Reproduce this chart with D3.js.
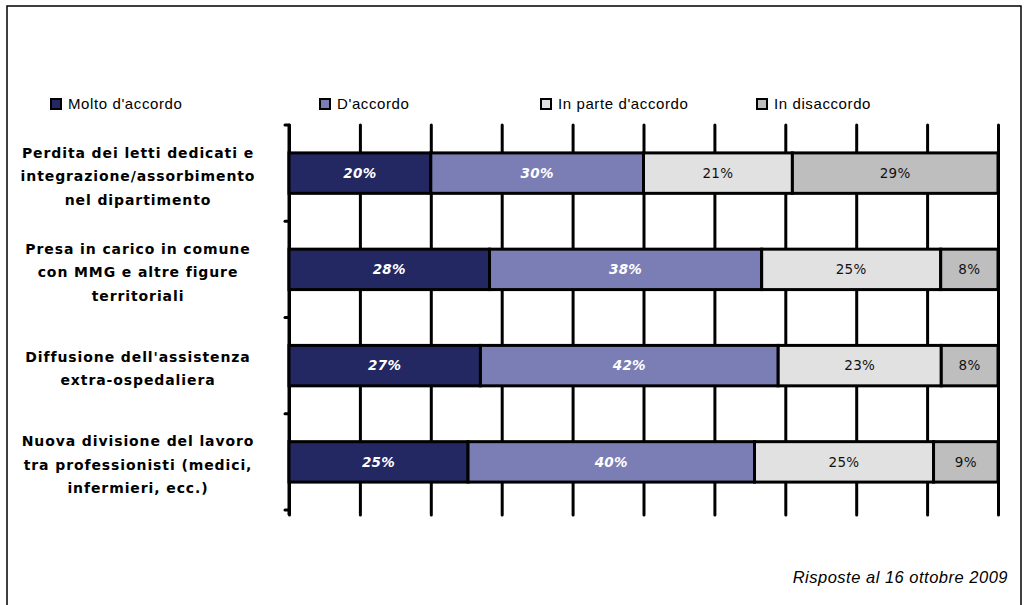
<!DOCTYPE html>
<html>
<head>
<meta charset="utf-8">
<script src="https://cdn.jsdelivr.net/npm/d3@7"></script>
<style>
  html, body { margin: 0; padding: 0; background: #fff; }
  svg { display: block; }
</style>
</head>
<body>
<svg id="chart" width="1027" height="605"></svg>
<script>
// Survey topics (one horizontal bar each)
const categories = [
  ["Perdita dei letti dedicati e", "integrazione/assorbimento", "nel dipartimento"],
  ["Presa in carico in comune", "con MMG e altre figure", "territoriali"],
  ["Diffusione dell'assistenza", "extra-ospedaliera"],
  ["Nuova divisione del lavoro", "tra professionisti (medici,", "infermieri, ecc.)"]
];
// Response levels
const seriesNames = ["Molto d'accordo", "D'accordo", "In parte d'accordo", "In disaccordo"];
// Percentages per topic, in the order of seriesNames
const molto    = [20, 28, 27, 25];
const daccordo = [30, 38, 42, 40];
const inParte  = [21, 25, 23, 25];
const disacc   = [29, 8, 8, 9];
const gridTicks = [0, 0.1, 0.2, 0.3, 0.4, 0.5, 0.6, 0.7, 0.8, 0.9, 1];
const footnote = "Risposte al 16 ottobre 2009";

const colors = ["#232762", "#7b7db5", "#e1e1e1", "#bebebe"];
const labelColors = ["#ffffff", "#ffffff", "#111111", "#111111"];

const rows = categories.map((c, i) => ({
  key: i,
  [seriesNames[0]]: molto[i],
  [seriesNames[1]]: daccordo[i],
  [seriesNames[2]]: inParte[i],
  [seriesNames[3]]: disacc[i]
}));

const stacked = d3.stack().keys(seriesNames).offset(d3.stackOffsetExpand)(rows);

const svg = d3.select("#chart");

// outer frame
svg.append("rect")
  .attr("x", 7).attr("y", 6).attr("width", 1014).attr("height", 605)
  .attr("fill", "#fff").attr("stroke", "#000").attr("stroke-width", 1.5);

const plotLeft = 289, plotRight = 998, plotTop = 125, plotBottom = 510;

const x = d3.scaleLinear().domain([0, 1]).range([plotLeft, plotRight]);
const y = d3.scaleBand().domain(rows.map(d => d.key)).range([plotTop, plotBottom]).paddingInner(0.58).paddingOuter(0.29);

// vertical gridlines
const grid = svg.append("g")
  .attr("transform", `translate(0,${plotTop})`)
  .call(d3.axisBottom(x).tickValues(gridTicks).tickSize(plotBottom + 5 - plotTop).tickFormat(""));
grid.select(".domain").remove();
grid.selectAll(".tick line").attr("stroke", "#000").attr("stroke-width", 3).attr("stroke-linecap", "round");

// category axis: line with ticks at band boundaries
const boundaries = d3.range(categories.length + 1).map(i => plotTop + i * (plotBottom - plotTop) / categories.length);
svg.append("line")
  .attr("x1", plotLeft).attr("x2", plotLeft).attr("y1", plotTop).attr("y2", plotBottom + 5)
  .attr("stroke", "#000").attr("stroke-width", 3);
svg.selectAll("line.ytick").data(boundaries).join("line")
  .attr("class", "ytick")
  .attr("x1", plotLeft - 4).attr("x2", plotLeft).attr("y1", d => d).attr("y2", d => d)
  .attr("stroke", "#000").attr("stroke-width", 3).attr("stroke-linecap", "round");

// stacked bars
const layers = svg.append("g").selectAll("g").data(stacked).join("g")
  .attr("fill", (d, i) => colors[i]);
layers.selectAll("rect").data(d => d).join("rect")
  .attr("x", d => x(d[0]))
  .attr("y", d => y(d.data.key))
  .attr("width", d => x(d[1]) - x(d[0]))
  .attr("height", y.bandwidth())
  .attr("stroke", "#000").attr("stroke-width", 3);

// value labels
stacked.forEach((layer, si) => {
  svg.append("g").selectAll("text").data(layer).join("text")
    .attr("x", d => (x(d[0]) + x(d[1])) / 2)
    .attr("y", d => y(d.data.key) + y.bandwidth() / 2)
    .attr("dy", "0.36em")
    .attr("text-anchor", "middle")
    .attr("font-family", "DejaVu Sans, sans-serif")
    .attr("font-size", 13.5)
    .attr("font-weight", si < 2 ? "bold" : "normal")
    .attr("font-style", si < 2 ? "italic" : "normal")
    .attr("letter-spacing", 0.3)
    .attr("fill", labelColors[si])
    .text(d => d.data[layer.key] + "%");
});

// category labels
const lineH = 23.5;
categories.forEach((lines, i) => {
  const cy = y(i) + y.bandwidth() / 2 + 3;
  const t = svg.append("text")
    .attr("text-anchor", "middle")
    .attr("font-family", "DejaVu Sans, sans-serif")
    .attr("font-size", 14)
    .attr("font-weight", "bold")
    .attr("letter-spacing", 0.9)
    .attr("fill", "#000");
  lines.forEach((ln, j) => {
    t.append("tspan")
      .attr("x", 138)
      .attr("y", cy + (j - (lines.length - 1) / 2) * lineH)
      .attr("dy", "0.36em")
      .text(ln);
  });
});

// legend
const legendX = [51, 320, 541, 757];
const legend = svg.append("g").selectAll("g").data(seriesNames).join("g")
  .attr("transform", (d, i) => `translate(${legendX[i]},104)`);
legend.append("rect")
  .attr("x", 0).attr("y", -5).attr("width", 10).attr("height", 10)
  .attr("fill", (d, i) => colors[i]).attr("stroke", "#000").attr("stroke-width", 2);
legend.append("text")
  .attr("x", 17).attr("y", 0).attr("dy", "0.36em")
  .attr("font-family", "Liberation Sans, Arial, sans-serif")
  .attr("font-size", 15)
  .attr("letter-spacing", 0.6)
  .attr("fill", "#000")
  .text(d => d);

// footnote
svg.append("text")
  .attr("x", 1008).attr("y", 583)
  .attr("text-anchor", "end")
  .attr("font-family", "Liberation Sans, Arial, sans-serif")
  .attr("font-style", "italic")
  .attr("font-size", 16.5)
  .attr("letter-spacing", 0.5)
  .attr("fill", "#000")
  .text(footnote);
</script>
</body>
</html>
